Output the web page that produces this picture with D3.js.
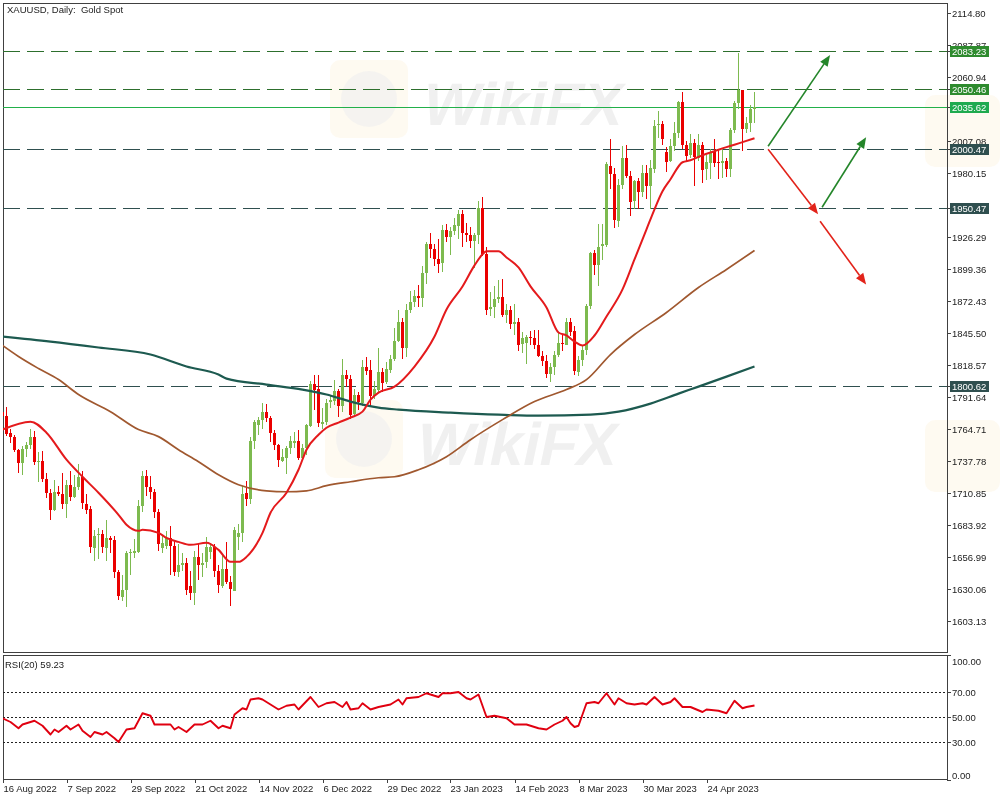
<!DOCTYPE html>
<html><head><meta charset="utf-8">
<script src="https://cdn.jsdelivr.net/npm/d3@7"></script>
<style>
body{margin:0;background:#fff}
svg{display:block}
text{font-family:"Liberation Sans",Arial,sans-serif}
</style>
</head><body>
<svg id="c" width="1000" height="800"></svg>
<script>
// ---------- DATA ----------
const title = "XAUUSD, Daily:  Gold Spot";
const dateLabels = ["16 Aug 2022","7 Sep 2022","29 Sep 2022","21 Oct 2022","14 Nov 2022","6 Dec 2022","29 Dec 2022","23 Jan 2023","14 Feb 2023","8 Mar 2023","30 Mar 2023","24 Apr 2023"];
const dateLabelIdx = [0,16,32,48,64,80,96,112,128,144,160,176];
const priceTicks = [2114.80,2087.87,2060.94,2007.08,1980.15,1926.29,1899.36,1872.43,1845.50,1818.57,1791.64,1764.71,1737.78,1710.85,1683.92,1656.99,1630.06,1603.13];
const rsiTicks = [100,70,50,30,0];
const rsiLevels = [70,50,30];

const opens = [1779,1776,1761,1758,1747,1736,1748,1751,1758,1737,1738,1723,1711,1697,1712,1710,1702,1718,1708,1716,
1724,1702,1697,1665,1675,1676,1665,1673,1671,1644,1623,1629,1660,1660,1661,1700,1725,1716,1712,1695,
1665,1666,1673,1666,1644,1650,1652,1633,1627,1657,1650,1652,1661,1665,1645,1633,1647,1636,1629,1674,
1677,1711,1706,1755,1768,1772,1779,1774,1761,1751,1738,1741,1749,1753,1755,1741,1749,1768,1803,1798,
1769,1771,1787,1789,1797,1784,1810,1807,1777,1793,1787,1817,1814,1792,1798,1813,1804,1815,1824,1839,
1855,1833,1865,1872,1877,1875,1896,1920,1916,1908,1904,1932,1926,1931,1936,1946,1930,1928,1923,1928,
1951,1912,1865,1867,1874,1876,1861,1865,1853,1855,1836,1837,1842,1841,1835,1826,1822,1811,1817,1827,
1837,1836,1855,1847,1813,1823,1831,1868,1913,1903,1918,1920,1986,1979,1940,1970,1993,1978,1956,1973,
1964,1980,1969,1984,2020,2021,1998,1990,2003,2014,2040,2004,1995,2005,1993,2004,1983,1989,1999,1989,
1988,1990,1983,2016,2039,2050,2017,2022,2034];
const highs = [1783,1783,1765,1760,1748,1750,1754,1765,1763,1745,1746,1728,1714,1722,1717,1728,1722,1729,1726,1735,
1729,1710,1700,1680,1681,1680,1688,1675,1675,1646,1642,1662,1664,1672,1705,1729,1730,1725,1714,1697,
1675,1679,1683,1671,1668,1660,1656,1645,1662,1669,1660,1674,1669,1668,1650,1659,1670,1641,1682,1685,
1717,1721,1758,1772,1775,1787,1786,1776,1764,1752,1748,1750,1759,1762,1764,1752,1769,1805,1810,1810,
1782,1790,1793,1806,1798,1824,1814,1810,1798,1796,1823,1825,1823,1805,1833,1816,1821,1827,1850,1865,
1858,1870,1881,1882,1886,1902,1922,1930,1920,1925,1936,1937,1935,1942,1949,1949,1938,1935,1930,1957,
1960,1918,1880,1885,1890,1891,1870,1868,1870,1858,1846,1844,1847,1848,1848,1830,1827,1820,1830,1846,
1845,1858,1858,1851,1826,1835,1870,1914,1915,1937,1937,1989,2009,1984,1975,2003,2004,1982,1974,1976,
1987,1987,1991,2025,2032,2024,2002,2009,2023,2041,2048,2007,2013,2009,2013,2006,1995,2000,2009,2000,
2000,1993,2018,2041,2081,2050,2027,2037,2048];
const lows = [1771,1759,1753,1745,1728,1726,1741,1748,1734,1720,1720,1707,1688,1696,1708,1697,1690,1704,1707,1713,
1697,1693,1660,1654,1655,1660,1654,1660,1639,1621,1620,1615,1642,1656,1660,1695,1708,1706,1690,1662,
1660,1664,1642,1641,1640,1645,1625,1621,1617,1638,1640,1648,1655,1640,1627,1631,1634,1616,1628,1663,
1670,1700,1702,1748,1760,1765,1771,1754,1747,1733,1737,1727,1744,1749,1739,1740,1743,1766,1781,1766,
1765,1768,1782,1785,1775,1779,1800,1773,1775,1781,1784,1810,1784,1790,1795,1796,1803,1812,1822,1838,
1824,1825,1862,1867,1867,1867,1887,1909,1902,1896,1897,1922,1911,1928,1925,1918,1922,1917,1900,1920,
1910,1861,1860,1858,1871,1859,1854,1849,1844,1830,1829,1819,1835,1832,1825,1818,1808,1804,1810,1825,
1830,1835,1843,1810,1809,1818,1827,1866,1894,1885,1907,1918,1967,1934,1935,1967,1976,1944,1950,1950,
1960,1958,1950,1980,2010,2004,1981,1989,1999,2010,2000,1990,1993,1969,1990,1972,1974,1975,1985,1975,
1976,1977,1977,2014,2034,1999,2014,2015,2022];
const closes = [1776,1761,1758,1747,1736,1748,1751,1758,1737,1738,1723,1711,1697,1712,1710,1702,1718,1708,1716,1724,
1702,1697,1665,1675,1676,1665,1673,1671,1644,1624,1629,1660,1661,1662,1700,1725,1716,1712,1695,1668,
1669,1673,1666,1644,1650,1652,1629,1627,1657,1650,1652,1665,1665,1645,1633,1647,1636,1630,1680,1677,
1710,1706,1755,1771,1772,1779,1774,1761,1751,1738,1741,1749,1755,1755,1741,1749,1768,1803,1798,1769,
1771,1787,1789,1797,1784,1810,1807,1777,1793,1787,1817,1814,1792,1798,1813,1804,1815,1824,1839,1855,
1833,1865,1872,1877,1875,1896,1920,1916,1908,1904,1932,1926,1931,1936,1946,1930,1928,1923,1928,1951,
1912,1865,1867,1874,1876,1861,1865,1853,1855,1836,1841,1842,1841,1835,1826,1822,1811,1817,1827,1837,
1836,1855,1847,1813,1823,1831,1868,1913,1903,1918,1920,1988,1979,1940,1970,1993,1978,1956,1973,1964,
1980,1969,1984,2020,2021,2008,1990,2003,2014,2040,2004,1995,2005,1993,2004,1983,1989,1998,1989,1988,
1990,1983,2016,2039,2050,2017,2022,2034,2035.62];

// moving averages as [bar index, price]
const maFast = [[0,1764.2],[7,1770.9],[11,1761.6],[16,1738.9],[20,1724.5],[24,1711.1],[29,1692.5],[31,1684.1],[34,1679.0],[35,1679.9],[39,1677.3],[41,1673.1],[44,1669.7],[47,1667.2],[51,1668.9],[54,1663.0],[57,1652.9],[59,1652.9],[61,1657.1],[65,1677.3],[67,1694.2],[71,1711.1],[74,1730.4],[76,1747.3],[79,1759.9],[81,1765.8],[84,1770.1],[87,1774.3],[90,1779.3],[92,1789.4],[94,1795.3],[98,1800.4],[103,1817.3],[108,1842.5],[111,1865.3],[115,1884.7],[118,1902.4],[120,1911.7],[121,1914.2],[124,1914.2],[126,1909.1],[129,1900.7],[132,1884.7],[136,1867.0],[139,1845.9],[141,1843.4],[143,1838.3],[145,1835.0],[148,1843.4],[151,1859.4],[155,1882.2],[158,1907.4],[161,1932.7],[163,1949.6],[165,1964.8],[167,1974.9],[170,1989.2],[172,1990.9],[175,1995.1],[178,1998.5],[181,2001.9],[185,2006.1],[188,2009.4]];
const maMid = [[0,1835.0],[4,1825.7],[9,1815.6],[14,1806.3],[19,1793.7],[27,1779.3],[34,1764.2],[39,1758.3],[44,1747.3],[49,1737.2],[54,1726.2],[59,1717.8],[66,1712.7],[71,1711.9],[76,1712.7],[81,1717.0],[87,1720.3],[94,1723.7],[98,1724.5],[104,1730.4],[111,1741.4],[117,1755.7],[125,1772.6],[133,1787.8],[141,1797.9],[146,1806.3],[152,1827.4],[158,1844.2],[166,1862.8],[174,1883.8],[181,1899.0],[188,1915.0]];
const maSlow = [[0,1842.5],[12,1838.3],[24,1833.3],[37,1827.4],[46,1817.3],[54,1810.5],[56,1807.1],[66,1802.1],[75,1797.9],[81,1793.7],[87,1787.8],[94,1782.7],[99,1781.0],[112,1778.5],[124,1776.8],[134,1776.0],[147,1776.8],[154,1779.3],[162,1786.1],[169,1794.5],[174,1800.4],[181,1808.8],[188,1817.3]];

// RSI(20) as [bar index, value]
const rsi = [[0,49],[2,46],[4,41],[5,44],[7,46],[8,47],[10,43],[12,36],[13,40],[14,38],[16,43],[17,40],[19,44],[20,39],[22,34],[23,38],[25,36],[26,38],[28,33],[29,30],[31,40],[33,41],[35,53],[37,51],[38,44],[42,44],[43,40],[44,42],[46,38],[48,44],[50,44],[52,47],[54,41],[55,43],[57,41],[58,52],[60,57],[61,56],[62,64],[64,65],[65,64],[67,60],[69,56],[71,59],[73,60],[74,56],[77,66],[79,58],[81,61],[83,62],[85,58],[86,62],[87,56],[89,57],[90,61],[92,56],[94,58],[97,60],[99,64],[100,60],[101,65],[104,66],[106,69],[109,66],[110,69],[112,69],[114,70],[116,65],[117,64],[119,68],[121,50],[123,51],[126,49],[128,44],[131,44],[132,43],[134,41],[136,40],[138,44],[140,47],[141,50],[142,45],[143,42],[144,43],[146,61],[148,62],[149,61],[151,69],[153,60],[154,65],[156,61],[158,60],[160,61],[161,60],[163,66],[165,60],[167,62],[168,65],[170,58],[172,58],[175,54],[176,56],[179,55],[181,53],[183,63],[185,57],[186,58],[188,59.23]];
const rsiLast = 59.23;

// horizontal levels
const levels = [2083.23, 2050.46, 2035.62, 2000.47, 1950.47, 1800.62];
const levelKinds = ["res","res","last","sup","sup","sup"];

// scenario arrows: [fromIndex, fromPrice, toIndex, toPrice, kind]
const arrows = [[191.4,2002.7,206.9,2079.4,"up"],[191.4,2000.2,203.9,1945.4,"down"],[204.9,1951.3,215.9,2010.3,"up"],[204.4,1939.5,215.9,1886.4,"down"]];

// ---------- CHART ----------
const UP = "#7dba4f", DN = "#ea0000";
const levelStyle = {
  res: {stroke:"#2d6f2d", dash:"17,7", box:"#2e8b2e"},
  last:{stroke:"#22b04a", dash:null, box:"#1faa4f"},
  sup: {stroke:"#2f4f4f", dash:"17,7", box:"#2f4f4f"}
};
const svg = d3.select("#c");
const P = {l:3, t:3, r:947, b:652};
const R = {l:3, t:655, r:947, b:779};

const x = d3.scaleLinear().domain([0,188]).range([2.5,754.5]);
const y = d3.scaleLinear().domain([1603.13,2114.80]).range([621,13]);
const yr = d3.scaleLinear().domain([0,100]).range([779.5,654.5]);

const defs = svg.append("defs");
defs.append("clipPath").attr("id","cm").append("rect").attr("x",P.l).attr("y",P.t).attr("width",P.r-P.l).attr("height",P.b-P.t);
defs.append("clipPath").attr("id","cr").append("rect").attr("x",R.l).attr("y",R.t).attr("width",R.r-R.l).attr("height",R.b-R.t);

// faint watermark
const wm = svg.append("g").attr("opacity",0.45);
[[330,60],[325,400]].forEach(p=>{
  wm.append("rect").attr("x",p[0]).attr("y",p[1]).attr("width",78).attr("height",78).attr("rx",10).attr("fill","#fbeccb").attr("opacity",0.6);
  wm.append("circle").attr("cx",p[0]+39).attr("cy",p[1]+39).attr("r",28).attr("fill","#dcdcdc").attr("opacity",0.6);
});
[[420,125],[415,465]].forEach(p=>{
  wm.append("text").attr("x",p[0]).attr("y",p[1]).attr("font-family","DejaVu Sans").attr("font-weight","bold")
    .attr("font-size",60).attr("fill","#dedede").attr("transform",`skewX(-12)`).attr("dx",p[1]*0.21).text("WikiFX");
});
[[925,95],[925,420]].forEach(p=>{
  wm.append("rect").attr("x",p[0]).attr("y",p[1]).attr("width",75).attr("height",72).attr("rx",10).attr("fill","#fbeccb").attr("opacity",0.6);
});

// frames
svg.append("rect").attr("x",P.l+0.5).attr("y",P.t+0.5).attr("width",P.r-P.l).attr("height",P.b-P.t).attr("fill","none").attr("stroke","#404040");
svg.append("rect").attr("x",R.l+0.5).attr("y",R.t+0.5).attr("width",R.r-R.l).attr("height",R.b-R.t).attr("fill","none").attr("stroke","#404040");

const gm = svg.append("g").attr("clip-path","url(#cm)");

// horizontal levels
gm.selectAll("line.lvl").data(levels).join("line")
  .attr("x1",P.l).attr("x2",P.r)
  .attr("y1",d=>Math.round(y(d))+0.5).attr("y2",d=>Math.round(y(d))+0.5)
  .attr("stroke",(d,i)=>levelStyle[levelKinds[i]].stroke)
  .attr("stroke-dasharray",(d,i)=>levelStyle[levelKinds[i]].dash)
  .attr("stroke-width",1);

// candles
const candles = opens.map((o,i)=>({i,o,h:highs[i],l:lows[i],c:closes[i]}));
gm.selectAll("line.wick").data(candles).join("line")
  .attr("x1",d=>x(d.i)).attr("x2",d=>x(d.i))
  .attr("y1",d=>Math.round(y(d.h))).attr("y2",d=>Math.round(y(d.l)))
  .attr("stroke",d=>d.c>=d.o?UP:DN).attr("stroke-width",1);
gm.selectAll("rect.body").data(candles).join("rect")
  .attr("x",d=>x(d.i)-1.5).attr("width",3)
  .attr("y",d=>Math.round(y(Math.max(d.o,d.c))))
  .attr("height",d=>Math.max(1,Math.round(Math.abs(y(d.o)-y(d.c)))))
  .attr("fill",d=>d.c>=d.o?UP:DN);

// moving averages
const ln = d3.line().x(d=>x(d[0])).y(d=>y(d[1])).curve(d3.curveMonotoneX);
gm.append("path").datum(maSlow).attr("d",ln).attr("fill","none").attr("stroke","#1d5a50").attr("stroke-width",2.2);
gm.append("path").datum(maMid).attr("d",ln).attr("fill","none").attr("stroke","#a0582f").attr("stroke-width",1.7);
gm.append("path").datum(maFast).attr("d",ln).attr("fill","none").attr("stroke","#e41a1c").attr("stroke-width",2);

// arrows
const ga = svg.append("g");
arrows.forEach(a=>{
  const col = a[4]==="up" ? "#24862a" : "#e2231a";
  const x1=x(a[0]), y1=y(a[1]), x2=x(a[2]), y2=y(a[3]);
  const ang = Math.atan2(y2-y1,x2-x1), L=11, Wd=4.5;
  const bx = x2-L*Math.cos(ang), by = y2-L*Math.sin(ang);
  ga.append("line").attr("x1",x1).attr("y1",y1).attr("x2",bx).attr("y2",by).attr("stroke",col).attr("stroke-width",1.6);
  const px=-Math.sin(ang), py=Math.cos(ang);
  ga.append("path").attr("d",`M${x2},${y2}L${bx+px*Wd},${by+py*Wd}L${bx-px*Wd},${by-py*Wd}Z`).attr("fill",col);
});

// price axis
const gp = svg.append("g");
gp.append("line").attr("x1",P.r+0.5).attr("x2",P.r+0.5).attr("y1",P.t).attr("y2",P.b).attr("stroke","#404040");
priceTicks.forEach(v=>{
  const yy = Math.round(y(v))+0.5;
  gp.append("line").attr("x1",P.r).attr("x2",P.r+4).attr("y1",yy).attr("y2",yy).attr("stroke","#404040");
  gp.append("text").attr("x",952).attr("y",yy+3.5).attr("font-size",9.5).attr("fill","#222").text(v.toFixed(2));
});
levels.forEach((v,i)=>{
  const yy = Math.round(y(v))+0.5;
  gp.append("line").attr("x1",P.r).attr("x2",P.r+4).attr("y1",yy).attr("y2",yy).attr("stroke","#404040");
  gp.append("rect").attr("x",950).attr("y",yy-5.5).attr("width",39).attr("height",11).attr("fill",levelStyle[levelKinds[i]].box);
  gp.append("text").attr("x",952).attr("y",yy+3.5).attr("font-size",9.5).attr("fill","#fff").text(v.toFixed(2));
});

// title
svg.append("text").attr("x",7).attr("y",13).attr("font-size",9.5).attr("fill","#222").style("white-space","pre").text(title);

// RSI panel
const gr = svg.append("g").attr("clip-path","url(#cr)");
gr.selectAll("line.rl").data(rsiLevels).join("line")
  .attr("x1",R.l).attr("x2",R.r).attr("y1",d=>Math.round(yr(d))+0.5).attr("y2",d=>Math.round(yr(d))+0.5)
  .attr("stroke","#222").attr("stroke-dasharray","2,2").attr("stroke-width",1);
const rl = d3.line().x(d=>x(d[0])).y(d=>yr(d[1]));
gr.append("path").datum(rsi).attr("d",rl).attr("fill","none").attr("stroke","#e00010").attr("stroke-width",1.9).attr("stroke-linejoin","round");
svg.append("text").attr("x",5).attr("y",668).attr("font-size",9.5).attr("fill","#222").text("RSI(20) " + rsiLast.toFixed(2));

const grA = svg.append("g");
grA.append("line").attr("x1",R.r+0.5).attr("x2",R.r+0.5).attr("y1",R.t).attr("y2",R.b).attr("stroke","#404040");
rsiTicks.forEach(v=>{
  const yy = Math.round(yr(v))+0.5;
  const ty = v===100 ? yy+6 : (v===0 ? yy-5.5 : yy);
  grA.append("line").attr("x1",R.r).attr("x2",R.r+4).attr("y1",yy).attr("y2",yy).attr("stroke","#404040");
  grA.append("text").attr("x",952).attr("y",ty+3.5).attr("font-size",9.5).attr("fill","#222").text(v.toFixed(2));
});

// time axis
const gt = svg.append("g");
dateLabels.forEach((t,k)=>{
  const xx = Math.round(x(dateLabelIdx[k]))+0.5;
  gt.append("line").attr("x1",xx).attr("x2",xx).attr("y1",R.b).attr("y2",R.b+4).attr("stroke","#404040");
  gt.append("text").attr("x",xx).attr("y",792).attr("font-size",9.5).attr("fill","#222").text(t);
});
</script>
</body></html>
